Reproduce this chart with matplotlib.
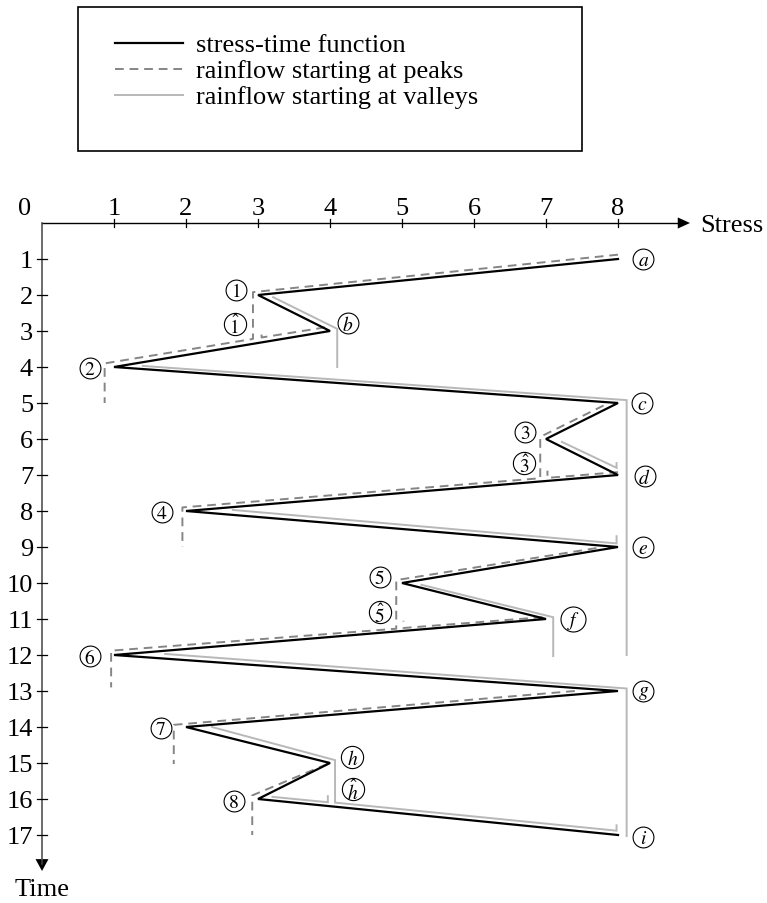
import matplotlib
matplotlib.use("Agg")
import matplotlib.pyplot as plt
from matplotlib.patches import Polygon, Rectangle
from matplotlib.lines import Line2D

plt.rcParams['font.family'] = ['Liberation Serif', 'DejaVu Serif']
plt.rcParams['mathtext.fontset'] = 'stix'

# stress-time function
time = list(range(1, 18))
stress = [8, 3, 4, 1, 8, 7, 8, 2, 8, 5, 7, 1, 8, 2, 4, 3, 8]

# rainflow starting at peaks (stress, time) - drawn dashed
peak_flows = [
    [(8.0, 0.88), (2.93, 1.92), (2.93, 3.22), (0.87, 3.9), (0.87, 5.0)],
    [(3.93, 2.9), (3.05, 3.18), (3.05, 3.0)],
    [(7.8, 5.07), (6.92, 5.94), (6.92, 7.09), (1.95, 7.9), (1.95, 9.0)],
    [(8.0, 6.92), (7.02, 7.08), (7.02, 6.88)],
    [(7.7, 9.03), (4.92, 9.92), (4.92, 11.27), (0.96, 11.88), (0.96, 12.9)],
    [(6.95, 10.95), (5.02, 11.25), (5.02, 11.05)],
    [(7.4, 13.0), (1.83, 13.94), (1.83, 15.03)],
    [(3.96, 15.03), (2.92, 15.9), (2.92, 17.0)],
]

# rainflow starting at valleys (stress, time) - drawn solid light gray
valley_flows = [
    [(3.21, 2.06), (4.1, 2.94), (4.1, 4.0)],
    [(1.4, 3.97), (8.12, 4.92), (8.12, 12.0)],
    [(7.22, 6.08), (7.98, 6.8), (7.98, 6.67)],
    [(2.65, 7.97), (7.98, 8.9), (7.98, 8.7)],
    [(5.27, 10.05), (7.1, 10.95), (7.1, 12.03)],
    [(1.71, 11.97), (8.12, 12.93), (8.12, 17.03)],
    [(2.36, 14.0), (4.07, 14.92), (4.07, 16.1), (7.98, 16.88), (7.98, 16.73)],
    [(3.2, 15.94), (3.97, 16.09), (3.97, 15.92)],
]

# circled labels
label_texts = ['$1$', r'$\hat{1}$', '$2$', '$3$', r'$\hat{3}$', '$4$', '$5$',
               r'$\hat{5}$', '$6$', '$7$', '$8$', '$a$', '$b$', '$c$', '$d$',
               '$e$', '$f$', '$g$', '$h$', r'$\hat{h}$', '$i$']
label_pos = [(2.69, 1.86), (2.68, 2.8), (0.66, 4.02), (6.71, 5.81), (6.7, 6.68),
             (1.66, 8.04), (4.69, 9.82), (4.69, 10.81), (0.66, 12.03),
             (1.65, 14.03), (2.66, 16.06), (8.35, 1.0), (4.25, 2.78),
             (8.34, 5.0), (8.37, 7.03), (8.35, 9.0), (7.38, 11.0), (8.35, 13.0),
             (4.31, 14.84), (4.32, 15.72), (8.35, 17.05)]

x_ticks = list(range(1, 9))
y_ticks = list(range(1, 18))

W, H = 767, 904
x0, y0 = 42, 224      # pixel position of the origin
sx, sy = 72, 36       # pixels per unit
FS = 19

fig = plt.figure(figsize=(W / 100, H / 100), dpi=100)
ax = fig.add_axes([0, 0, 1, 1])
ax.set_xlim(-x0 / sx, (W - x0) / sx)
ax.set_ylim((H - y0) / sy, -y0 / sy)
ax.axis('off')

BLACK = '#000000'
DASH = '#858585'
LIGHT = '#b8b8b8'

# axes with arrows
ax.plot([0, 8.85], [0, 0], color=BLACK, lw=1.0)
ax.add_patch(Polygon([(9.0, 0), (8.83, -0.155), (8.83, 0.155)], closed=True,
                     color=BLACK, lw=0))
ax.plot([0, 0], [0, 17.8], color='#444444', lw=1.1)
ax.add_patch(Polygon([(0, 18.0), (-0.09, 17.67), (0.09, 17.67)], closed=True,
                     color=BLACK, lw=0))

for v in x_ticks:
    ax.plot([v, v], [-0.12, 0.12], color=BLACK, lw=0.9)
    ax.text(v, -0.41, str(v), ha='center', va='center', fontsize=FS)
ax.text(-0.24, -0.41, '0', ha='center', va='center', fontsize=FS)
for v in y_ticks:
    ax.plot([-0.07, 0.07], [v, v], color=BLACK, lw=0.9)
    ax.text(-0.125, v + 0.05, str(v), ha='right', va='center', fontsize=FS)
ax.text(9.14, 0.05, 'Stress', ha='left', va='center', fontsize=FS)
ax.text(0.0, 18.5, 'Time', ha='center', va='center', fontsize=FS)

for path in valley_flows:
    ax.plot([p[0] for p in path], [p[1] for p in path], color=LIGHT, lw=1.4,
            solid_joinstyle='miter')
for path in peak_flows:
    ax.plot([p[0] for p in path], [p[1] for p in path], color=DASH, lw=1.4,
            dashes=(4.5, 3.0))
ax.plot(stress, time, color=BLACK, lw=1.6, solid_joinstyle='miter')

for txt, (s, t) in zip(label_texts, label_pos):
    size = 15
    if txt == '$f$':
        size = 18
    elif 'h' in txt:
        size = 16
    ax.plot(s, t, marker='o', ms=size, mfc='white', mec=BLACK, mew=0.8)
    ax.text(s, t + 0.04, txt, ha='center', va='center', fontsize=14)

# legend box drawn in pixel coordinates
lax = fig.add_axes([0, 0, 1, 1])
lax.set_xlim(0, W)
lax.set_ylim(H, 0)
lax.axis('off')
lax.add_patch(Rectangle((78, 8), 504, 144, fill=False, ec=BLACK, lw=1.2))
legend_items = [('stress-time function', dict(color=BLACK, lw=1.6)),
                ('rainflow starting at peaks', dict(color=DASH, lw=1.4, dashes=(4.5, 3.0))),
                ('rainflow starting at valleys', dict(color=LIGHT, lw=1.4))]
for k, (name, style) in enumerate(legend_items):
    yy = 44 + 26 * k
    lax.add_line(Line2D([115, 183], [yy, yy], **style))
    lax.text(196, yy + 2, name, ha='left', va='center', fontsize=FS)

fig.savefig('out.png', dpi=100)
